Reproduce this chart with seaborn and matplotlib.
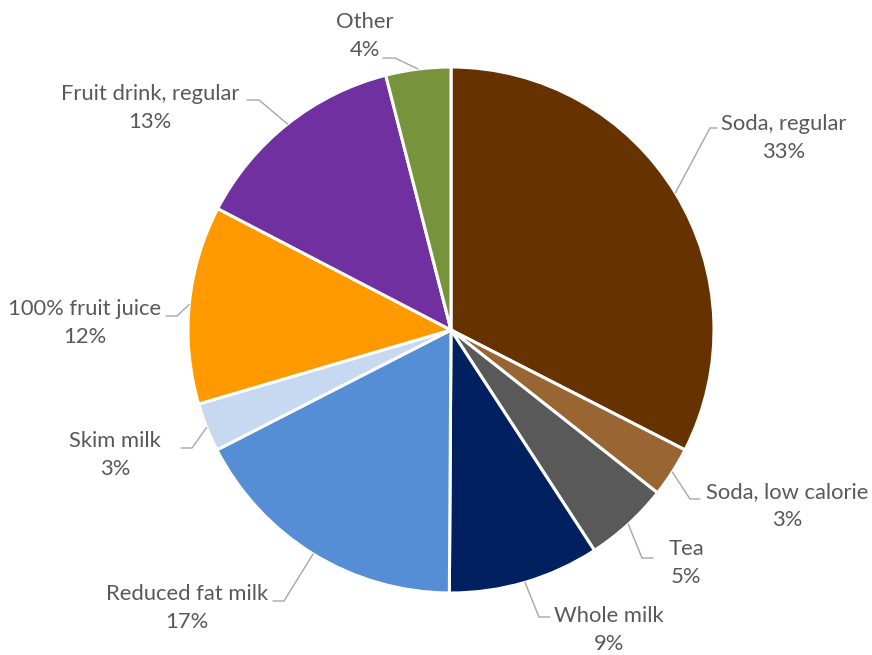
import numpy as np
import matplotlib
matplotlib.use("Agg")
import matplotlib.pyplot as plt
import seaborn as sns

# Beverage shares (percent of total), clockwise from 12 o'clock
categories = ["Soda, regular", "Soda, low calorie", "Tea", "Whole milk",
              "Reduced fat milk", "Skim milk", "100% fruit juice",
              "Fruit drink, regular", "Other"]
shares = [32.6, 3.1, 5.2, 9.3, 17.4, 3.0, 12.2, 13.4, 4.0]
colors = ["#663300", "#996633", "#595959", "#002060", "#558ED5",
          "#C6D9F1", "#FF9900", "#7030A0", "#77933C"]

# Label layout in pixels: name-line centre, and the short horizontal
# leader segment (end near text, elbow)
label_xy = [(784, 124), (787, 492), (686, 549), (609, 616), (187, 594),
            (115, 441), (85, 309), (150, 94), (365, 22)]
leader_h = [(717, 710, 128), (700, 690, 499), (653, 642, 558),
            (550, 539, 617), (273, 284, 601), (181, 192, 448),
            (166, 177, 316), (247, 259, 100), (383, 395, 58)]

W, H = 872, 655
CX, CY, R = 451, 330, 263

sns.set_theme(style="white")
plt.rcParams["font.family"] = ["Lato", "DejaVu Sans"]

fig = plt.figure(figsize=(W / 100, H / 100), dpi=100)
ax = fig.add_axes([0, 0, 1, 1])

wedges, _ = ax.pie(shares, colors=colors, startangle=90, counterclock=False,
                   radius=1.0, center=(0, 0),
                   wedgeprops=dict(edgecolor="white", linewidth=2.2))

ax.set_xlim(-CX / R, (W - CX) / R)
ax.set_ylim(-(H - CY) / R, CY / R)
ax.set_aspect("equal")
ax.axis("off")


def px(x, y):
    return (x - CX) / R, (CY - y) / R


total = sum(shares)
cum = np.cumsum([0] + shares) / total
text_color = "#595959"
line_color = "#A6A6A6"
fs = 15.8
for i, name in enumerate(categories):
    mid = (cum[i] + cum[i + 1]) / 2 * 2 * np.pi
    ex, ey = np.sin(mid), np.cos(mid)
    x0, x1, yy = leader_h[i]
    a = px(x0, yy)
    b = px(x1, yy)
    ax.plot([a[0], b[0], ex], [a[1], b[1], ey], color=line_color, lw=1.0,
            solid_joinstyle="miter", zorder=3)
    lx, ly = label_xy[i]
    pct = f"{round(shares[i] / total * 100):.0f}%"
    ax.text(*px(lx, ly), name, ha="center", va="center", fontsize=fs,
            color=text_color)
    ax.text(*px(lx, ly + 28), pct, ha="center", va="center", fontsize=fs,
            color=text_color)

fig.savefig("out.png", dpi=100, facecolor="white")
